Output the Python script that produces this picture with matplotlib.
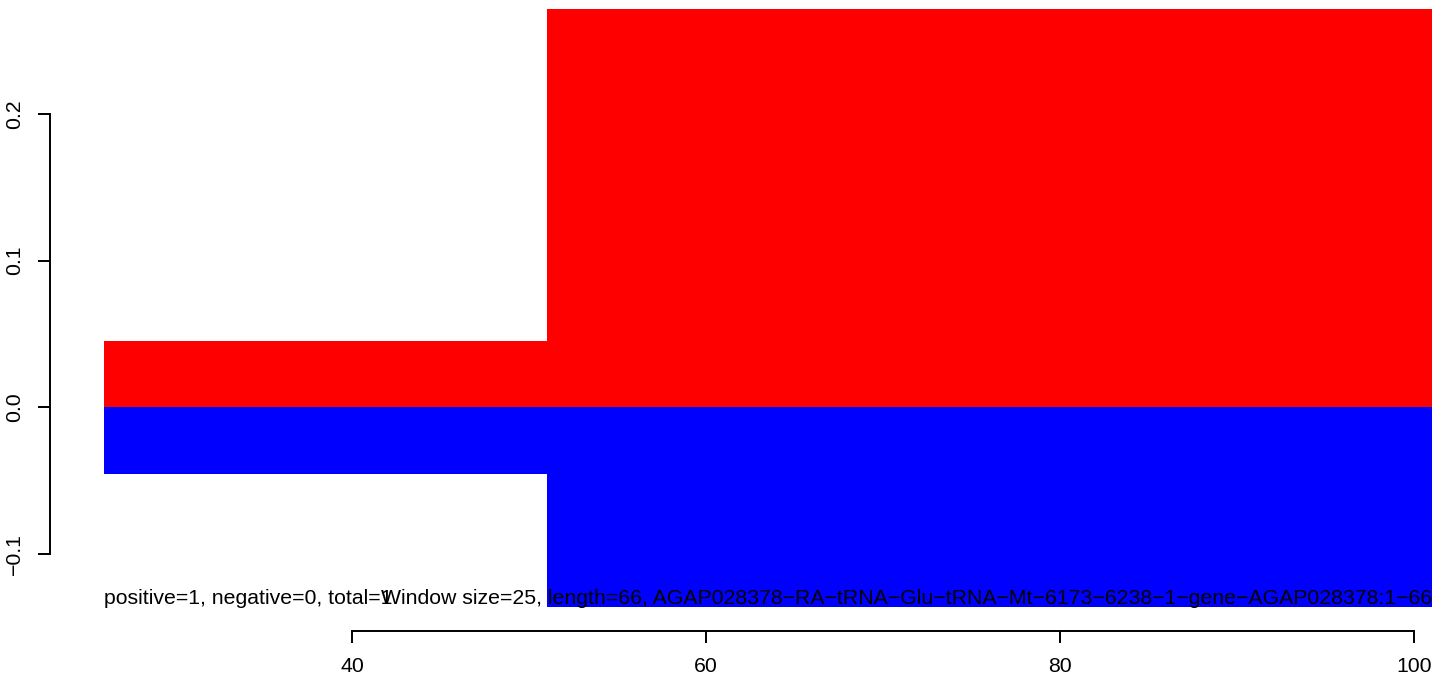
import matplotlib
matplotlib.use("Agg")
import matplotlib.pyplot as plt
from matplotlib.ticker import FixedLocator, FuncFormatter

plt.rcParams['font.family'] = ['Liberation Sans', 'DejaVu Sans']

# Window edges and values
edges = [26, 51, 101]
positive_vals = [0.0452, 0.2715]
negative_vals = [-0.0455, -0.136]
x_ticks = [40, 60, 80, 100]
y_ticks = [-0.1, 0.0, 0.1, 0.2]
left_text = "positive=1, negative=0, total=1"
right_text = "Window size=25, length=66, AGAP028378\u2212RA\u2212tRNA\u2212Glu\u2212tRNA\u2212Mt\u22126173\u22126238\u22121\u2212gene\u2212AGAP028378:1\u221266"

FS = 15.3

W, H = 1444, 681
fig = plt.figure(figsize=(W / 100, H / 100), dpi=100)
ax = fig.add_axes([104 / W, (H - 607) / H, (1432 - 104) / W, (607 - 9) / H])

for i in range(len(positive_vals)):
    x0, x1 = edges[i], edges[i + 1]
    ax.bar(x0, positive_vals[i], width=x1 - x0, align='edge', color='#FF0000', linewidth=0)
    ax.bar(x0, negative_vals[i], width=x1 - x0, align='edge', color='#0000FF', linewidth=0)

ax.set_xlim(edges[0], edges[-1])
ax.set_ylim(min(negative_vals), max(positive_vals))

for s in ['top', 'right']:
    ax.spines[s].set_visible(False)
ax.spines['left'].set_position(('outward', 54 * 0.72))
ax.spines['bottom'].set_position(('outward', 24 * 0.72))
ax.spines['left'].set_bounds(y_ticks[0], y_ticks[-1])
ax.spines['bottom'].set_bounds(x_ticks[0], x_ticks[-1])
for s in ['left', 'bottom']:
    ax.spines[s].set_linewidth(1.4)

ax.xaxis.set_major_locator(FixedLocator(x_ticks))
ax.yaxis.set_major_locator(FixedLocator(y_ticks))
ax.xaxis.set_major_formatter(FuncFormatter(lambda v, p: f"{v:g}"))
ax.yaxis.set_major_formatter(FuncFormatter(lambda v, p: f"{v:.1f}".replace('-', '\u2212')))
ax.tick_params(axis='both', direction='out', length=12 * 0.72, width=1.4, labelsize=FS)
ax.tick_params(axis='x', pad=10)
ax.tick_params(axis='y', pad=10)
for lab in ax.get_yticklabels():
    lab.set_rotation(90)
    lab.set_va('center')

ax.text(0, 0.005, left_text, transform=ax.transAxes, ha='left', va='baseline', fontsize=FS, color='black')
ax.text(1, 0.005, right_text, transform=ax.transAxes, ha='right', va='baseline', fontsize=FS, color='black')

fig.savefig("out.png", dpi=100)
